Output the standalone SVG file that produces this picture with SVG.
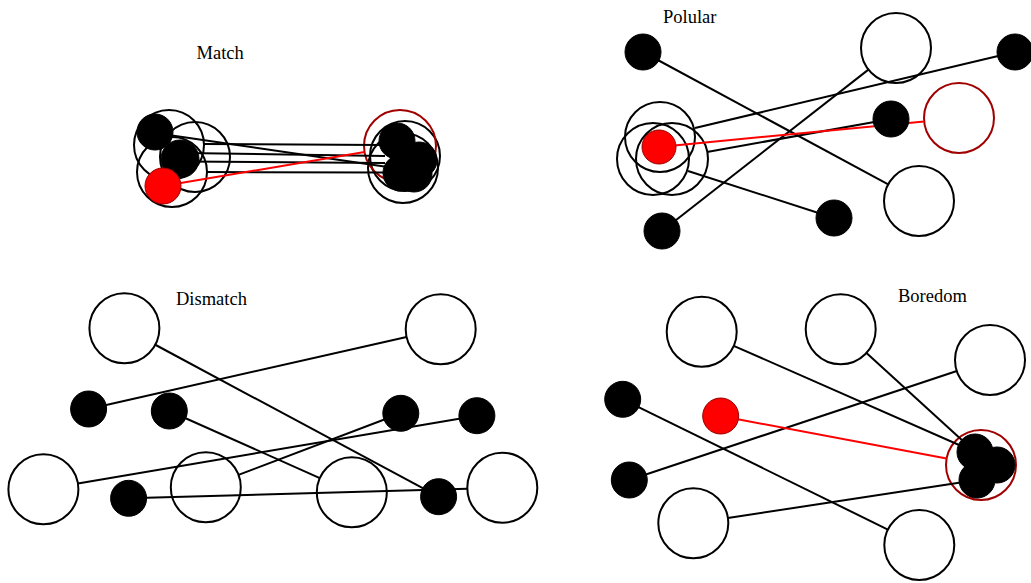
<svg xmlns="http://www.w3.org/2000/svg" width="1031" height="583" viewBox="0 0 1031 583">
<style>
.lbl{font-family:"Liberation Serif","Times New Roman",serif;font-size:18.5px;fill:#000}
.ring{fill:none;stroke:#000;stroke-width:2}
.wn{fill:#fff;stroke:#000;stroke-width:2}
.rring{fill:none;stroke:#a00000;stroke-width:2}
.bn{fill:#000;stroke:#000;stroke-width:1}
.rn{fill:#f00;stroke:#900;stroke-width:1}
.ln{stroke:#000;stroke-width:2;fill:none}
.rl{stroke:#f00;stroke-width:2;fill:none}
</style>
<rect width="1031" height="583" fill="#fff"/>

<g id="labels">
<text class="lbl" x="196.5" y="59">Match</text>
<text class="lbl" x="663" y="23">Polular</text>
<text class="lbl" x="176" y="305">Dismatch</text>
<text class="lbl" x="898" y="302">Boredom</text>
</g>

<!-- white / ring nodes -->
<g id="match-rings">
<circle class="ring" cx="169" cy="145" r="35"/>
<circle class="ring" cx="195" cy="157" r="35"/>
<circle class="ring" cx="172" cy="172" r="35"/>
<circle class="ring" cx="405" cy="156" r="35"/>
<circle class="ring" cx="403" cy="168" r="35"/>
<circle class="rring" cx="400" cy="146" r="36"/>
</g>
<g id="polular-white">
<circle class="ring" cx="896" cy="48" r="35"/>
<circle class="ring" cx="919" cy="201" r="35"/>
<circle class="rring" cx="959" cy="118" r="35"/>
<circle class="ring" cx="660" cy="137" r="35"/>
<circle class="ring" cx="653" cy="159" r="36"/>
<circle class="ring" cx="672" cy="159" r="36"/>
</g>
<g id="dismatch-white">
<circle class="ring" cx="124.4" cy="328.3" r="35"/>
<circle class="ring" cx="440.7" cy="329.3" r="35"/>
<circle class="ring" cx="43.4" cy="489.3" r="35"/>
<circle class="ring" cx="205.8" cy="487.3" r="35"/>
<circle class="ring" cx="351.8" cy="492.3" r="35"/>
<circle class="ring" cx="502.3" cy="487.7" r="35"/>
</g>
<g id="boredom-white">
<circle class="ring" cx="701.7" cy="331.7" r="35"/>
<circle class="ring" cx="840.7" cy="329.3" r="35"/>
<circle class="ring" cx="990" cy="360" r="35"/>
<circle class="ring" cx="693.3" cy="523.3" r="35"/>
<circle class="ring" cx="919.3" cy="545" r="35"/>
<circle class="rring" cx="981" cy="465" r="35"/>
</g>

<g id="connectors">
<!-- Match -->
<line class="ln" x1="204" y1="144" x2="382" y2="145"/>
<line class="ln" x1="155" y1="133" x2="398" y2="168.5"/>
<line class="ln" x1="185" y1="153" x2="385" y2="156"/>
<line class="ln" x1="185" y1="161.5" x2="385" y2="163"/>
<line class="ln" x1="207" y1="172" x2="385" y2="172.5"/>
<line class="rl" x1="163" y1="186" x2="364.5" y2="152"/>
<!-- Polular -->
<line class="ln" x1="643" y1="52" x2="888.2" y2="184.4"/>
<line class="ln" x1="1015" y1="52" x2="695" y2="128"/>
<line class="ln" x1="891" y1="119" x2="707" y2="152"/>
<line class="ln" x1="662" y1="231" x2="868.4" y2="69.6"/>
<line class="ln" x1="834" y1="218" x2="688" y2="171"/>
<line class="rl" x1="659" y1="147" x2="924.2" y2="121.4"/>
<!-- Dismatch -->
<line class="ln" x1="154.8" y1="344.5" x2="438.6" y2="496.7"/>
<line class="ln" x1="88.6" y1="409" x2="406.6" y2="337"/>
<line class="ln" x1="169.3" y1="411" x2="319.8" y2="478.1"/>
<line class="ln" x1="77.9" y1="483.4" x2="476.9" y2="415.7"/>
<line class="ln" x1="238.5" y1="474.9" x2="400.8" y2="413.3"/>
<line class="ln" x1="128.6" y1="498.3" x2="467.3" y2="488.7"/>
<!-- Boredom -->
<line class="ln" x1="733.7" y1="345.8" x2="975" y2="452"/>
<line class="ln" x1="866.5" y1="352.9" x2="975" y2="452"/>
<line class="ln" x1="956.8" y1="371" x2="629.3" y2="480"/>
<line class="ln" x1="622.7" y1="399.3" x2="887.9" y2="529.6"/>
<line class="rl" x1="720.7" y1="416" x2="946.6" y2="458.5"/>
<line class="ln" x1="727.9" y1="518" x2="977" y2="480"/>
</g>

<g id="match-nodes">
<circle class="bn" cx="155" cy="132" r="18"/>
<circle class="bn" cx="180" cy="159" r="19"/>
<circle class="rn" cx="163" cy="186" r="18"/>
<circle class="bn" cx="397" cy="141" r="18"/>
<circle class="bn" cx="419" cy="160" r="18"/>
<circle class="bn" cx="401" cy="173" r="18"/>
<circle class="bn" cx="414" cy="174" r="18"/>
</g>
<g id="polular-nodes">
<circle class="bn" cx="643" cy="52" r="18"/>
<circle class="bn" cx="1015" cy="52" r="18"/>
<circle class="bn" cx="891" cy="119" r="18"/>
<circle class="bn" cx="834" cy="218" r="18"/>
<circle class="bn" cx="662" cy="231" r="18"/>
<circle class="rn" cx="659" cy="147" r="17"/>
</g>
<g id="dismatch-nodes">
<circle class="bn" cx="88.6" cy="409" r="18"/>
<circle class="bn" cx="169.3" cy="411" r="18"/>
<circle class="bn" cx="400.8" cy="413.3" r="18"/>
<circle class="bn" cx="476.9" cy="415.7" r="18"/>
<circle class="bn" cx="128.6" cy="498.3" r="18"/>
<circle class="bn" cx="438.6" cy="496.7" r="18"/>
</g>
<g id="boredom-nodes">
<circle class="bn" cx="622.7" cy="399.3" r="18"/>
<circle class="bn" cx="629.3" cy="480" r="18"/>
<circle class="rn" cx="720.7" cy="416" r="18"/>
<circle class="bn" cx="975" cy="452" r="18"/>
<circle class="bn" cx="997" cy="465" r="18"/>
<circle class="bn" cx="977" cy="480" r="18"/>
</g>
</svg>
